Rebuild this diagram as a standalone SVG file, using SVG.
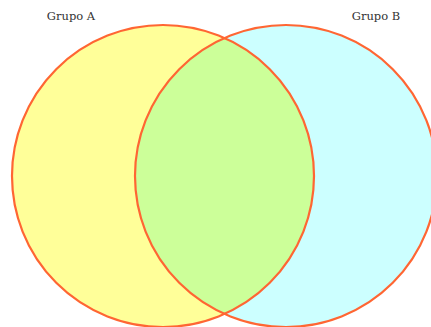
<svg xmlns="http://www.w3.org/2000/svg" width="431" height="327" viewBox="0 0 431 327">
<style>
.lbl{font-family:"DejaVu Serif","Liberation Serif",serif;font-size:11.5px;fill:#333;text-anchor:middle}
.edge{fill:none;stroke:#FF6633;stroke-width:2.2}
</style>
<defs>
<clipPath id="clipA"><circle cx="163" cy="176" r="151"/></clipPath>
</defs>
<rect width="431" height="327" fill="#fff"/>
<g id="groupA">
<circle cx="163" cy="176" r="151" fill="#FFFF99"/>
<text class="lbl" x="71" y="20">Grupo A</text>
</g>
<g id="groupB">
<circle cx="286" cy="176" r="151" fill="#CCFFFF"/>
<text class="lbl" x="376" y="20">Grupo B</text>
</g>
<g id="intersection">
<circle cx="286" cy="176" r="151" fill="#CCFF99" clip-path="url(#clipA)"/>
</g>
<g id="outlines">
<circle class="edge" cx="163" cy="176" r="151"/>
<circle class="edge" cx="286" cy="176" r="151"/>
</g>
</svg>
